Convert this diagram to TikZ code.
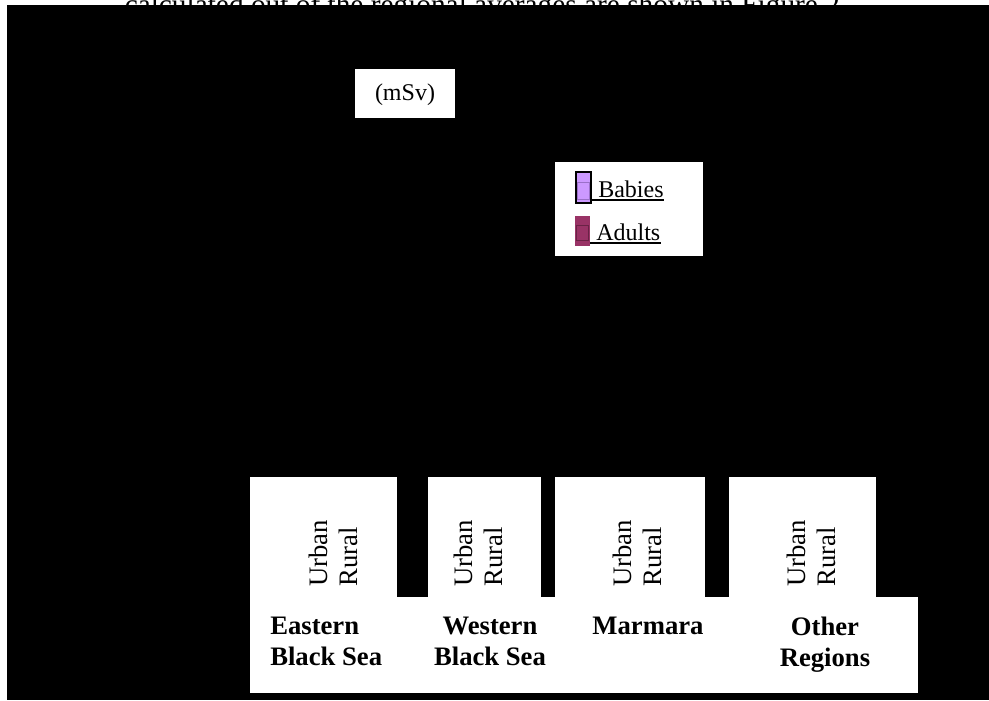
\documentclass[tikz,border=0pt]{standalone}
\usepackage{fontspec}
\setmainfont{Liberation Serif}
\definecolor{babies}{HTML}{CC99FF}
\definecolor{babiesline}{HTML}{9A70C8}
\definecolor{adults}{HTML}{993366}
\definecolor{adultsline}{HTML}{6A2346}
\begin{document}
\begin{tikzpicture}[x=0.75pt,y=-0.75pt,
  unit/.style={font=\fontsize{18}{22}\selectfont,inner sep=0pt},
  region/.style={font=\fontsize{20}{23}\selectfont\bfseries,inner sep=0pt,anchor=north},
  axis label/.style={font=\fontsize{20}{22.5}\selectfont,rotate=90,align=left,anchor=west,inner sep=0pt}]
  \useasboundingbox (0,0) rectangle (989,700);
  \fill[white] (0,0) rectangle (989,700);

  % caption line of the page, mostly hidden behind the chart
  \node[font=\fontsize{22}{26}\selectfont,anchor=base,inner sep=0pt] (caption) at (486,14) {calculated out of the regional averages are shown in Figure 2.};
  \fill[black] (7,5) rectangle (989,700);

  % unit box
  \fill[white] (355,69) rectangle (455,118);
  \node[unit] (unit) at (405,95) {(mSv)};

  % legend
  \fill[white] (555,162) rectangle (703,256);
  \draw[line width=1.2pt,fill=babies] (576,172) rectangle (591,203);
  \draw[babiesline,line width=0.5pt] (577.5,182) rectangle (589,199);
  \node[unit,anchor=base west] (babies) at (598,197) {Babies};
  \draw[line width=1.1pt] (591,200) -- (babies.base east |- 0,200);
  \fill[adults] (575,216) rectangle (590,246);
  \draw[adultsline,line width=0.5pt] (576.5,225) rectangle (588,240);
  \node[unit,anchor=base west] (adults) at (596,240) {Adults};
  \draw[line width=1.1pt] (590,243) -- (adults.base east |- 0,243);

  % category axis
  \fill[white] (250,597) rectangle (918,693);
  \foreach \l/\r/\c/\n in {250/397/333/1, 428/541/478/2, 555/705/637/3, 729/876/811/4} {
    \fill[white] (\l,477) rectangle (\r,598);
    \node[axis label] (col\n) at (\c,587) {Urban\\Rural};
  }
  \node[region,align=left,anchor=north west] (eastern) at (270,617) {Eastern\\Black Sea};
  \node[region,align=center] (western) at (490,617) {Western\\Black Sea};
  \node[region] (marmara) at (648,617) {Marmara};
  \node[region,align=center] (other) at (825,617) {Other\\Regions};
\end{tikzpicture}
\end{document}
